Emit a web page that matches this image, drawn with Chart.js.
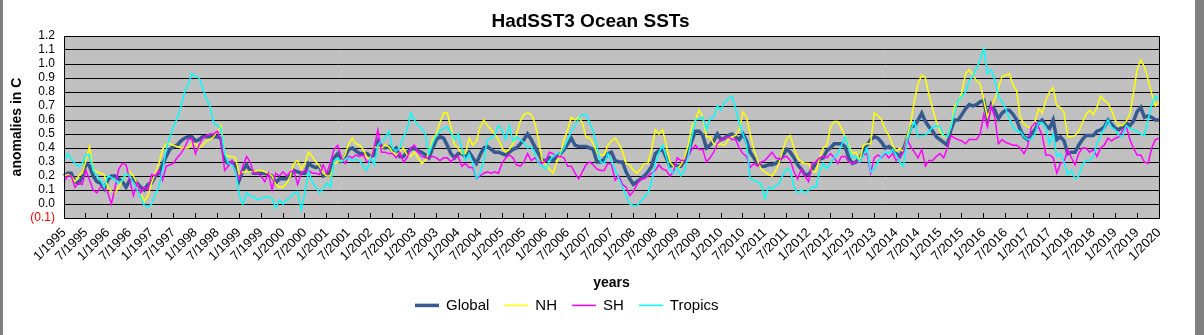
<!DOCTYPE html>
<html>
<head>
<meta charset="utf-8">
<script src="https://cdn.jsdelivr.net/npm/chart.js@4.4.1/dist/chart.umd.min.js"></script>
<style>
  html, body { margin: 0; padding: 0; background: #fff; }
  #wrap { position: relative; width: 1204px; height: 335px; }
</style>
</head>
<body>
<div id="wrap"><canvas id="sst"></canvas></div>
<script>
// HadSST3 monthly anomalies (C), 1/1995 .. 1/2020, one row per year
const globalSst = [
  0.20,0.22,0.22,0.16,0.15,0.19,0.29,0.27,0.20,0.16,0.15,0.11,
  0.17,0.20,0.20,0.18,0.16,0.12,0.17,0.18,0.15,0.12,0.10,0.14,
  0.15,0.20,0.22,0.28,0.34,0.39,0.41,0.42,0.45,0.47,0.48,0.48,
  0.45,0.46,0.48,0.48,0.48,0.48,0.48,0.47,0.31,0.29,0.30,0.27,
  0.17,0.24,0.28,0.24,0.22,0.22,0.22,0.22,0.21,0.20,0.15,0.18,
  0.18,0.18,0.20,0.24,0.23,0.22,0.22,0.29,0.27,0.26,0.27,0.20,
  0.21,0.23,0.33,0.36,0.31,0.34,0.39,0.40,0.38,0.36,0.36,0.36,
  0.34,0.35,0.45,0.41,0.40,0.41,0.38,0.40,0.34,0.34,0.37,0.39,
  0.40,0.38,0.37,0.35,0.33,0.40,0.46,0.48,0.47,0.42,0.36,0.33,
  0.36,0.36,0.34,0.37,0.33,0.29,0.35,0.40,0.41,0.39,0.37,0.37,
  0.36,0.35,0.37,0.39,0.40,0.43,0.46,0.50,0.46,0.41,0.36,0.31,
  0.31,0.33,0.31,0.34,0.36,0.39,0.43,0.47,0.42,0.41,0.41,0.41,
  0.40,0.39,0.30,0.30,0.32,0.36,0.37,0.31,0.30,0.30,0.23,0.18,
  0.14,0.16,0.18,0.20,0.23,0.27,0.36,0.38,0.39,0.33,0.27,0.28,
  0.27,0.27,0.31,0.37,0.45,0.52,0.52,0.49,0.40,0.42,0.45,0.50,
  0.46,0.47,0.49,0.50,0.48,0.46,0.50,0.45,0.37,0.33,0.29,0.27,
  0.27,0.28,0.28,0.29,0.31,0.35,0.39,0.37,0.33,0.28,0.25,0.21,
  0.21,0.25,0.29,0.32,0.33,0.38,0.40,0.43,0.43,0.43,0.41,0.33,
  0.29,0.30,0.33,0.37,0.42,0.46,0.48,0.47,0.44,0.40,0.41,0.39,
  0.36,0.34,0.39,0.47,0.55,0.56,0.60,0.65,0.59,0.55,0.52,0.48,
  0.46,0.44,0.42,0.53,0.60,0.60,0.64,0.68,0.71,0.70,0.71,0.73,
  0.74,0.61,0.71,0.67,0.61,0.65,0.67,0.67,0.64,0.60,0.53,0.48,
  0.46,0.50,0.53,0.58,0.60,0.56,0.54,0.60,0.46,0.48,0.45,0.36,
  0.37,0.37,0.42,0.46,0.49,0.49,0.49,0.52,0.53,0.55,0.60,0.57,
  0.54,0.53,0.55,0.58,0.56,0.59,0.66,0.69,0.62,0.63,0.62,0.60,
  0.60
];

const nhSst = [
  0.20,0.21,0.20,0.16,0.20,0.22,0.31,0.41,0.24,0.23,0.22,0.21,
  0.12,0.09,0.08,0.12,0.17,0.21,0.23,0.20,0.15,0.08,0.02,0.06,
  0.15,0.22,0.29,0.39,0.43,0.43,0.42,0.41,0.40,0.40,0.40,0.43,
  0.43,0.40,0.42,0.45,0.46,0.48,0.52,0.56,0.36,0.34,0.34,0.33,
  0.21,0.23,0.23,0.23,0.23,0.24,0.24,0.23,0.22,0.20,0.14,0.12,
  0.12,0.15,0.20,0.29,0.31,0.25,0.29,0.37,0.34,0.30,0.27,0.22,
  0.20,0.20,0.29,0.30,0.31,0.35,0.43,0.47,0.43,0.42,0.39,0.33,
  0.33,0.41,0.40,0.40,0.42,0.41,0.37,0.35,0.37,0.40,0.35,0.34,
  0.37,0.33,0.29,0.31,0.37,0.46,0.50,0.58,0.65,0.65,0.55,0.42,
  0.40,0.36,0.36,0.47,0.42,0.45,0.55,0.60,0.56,0.53,0.50,0.46,
  0.40,0.37,0.39,0.43,0.50,0.59,0.64,0.65,0.64,0.58,0.46,0.31,
  0.28,0.25,0.22,0.30,0.36,0.46,0.53,0.62,0.60,0.62,0.58,0.48,
  0.47,0.43,0.37,0.35,0.35,0.42,0.45,0.47,0.43,0.38,0.29,0.28,
  0.24,0.22,0.25,0.29,0.29,0.39,0.53,0.50,0.53,0.42,0.30,0.27,
  0.25,0.28,0.33,0.42,0.55,0.60,0.67,0.62,0.48,0.48,0.43,0.42,
  0.43,0.42,0.46,0.48,0.49,0.53,0.66,0.62,0.50,0.39,0.31,0.25,
  0.23,0.21,0.20,0.24,0.30,0.39,0.47,0.49,0.40,0.33,0.30,0.29,
  0.29,0.23,0.23,0.33,0.40,0.42,0.55,0.59,0.59,0.54,0.48,0.42,
  0.36,0.37,0.31,0.42,0.43,0.43,0.65,0.63,0.60,0.53,0.49,0.42,
  0.38,0.40,0.37,0.48,0.58,0.74,0.86,0.92,0.90,0.78,0.68,0.59,
  0.52,0.48,0.48,0.55,0.70,0.73,0.80,0.93,0.96,0.92,0.88,0.86,
  0.74,0.62,0.69,0.75,0.83,0.91,0.92,0.93,0.85,0.81,0.62,0.57,
  0.55,0.55,0.59,0.68,0.65,0.74,0.80,0.83,0.70,0.69,0.65,0.48,
  0.48,0.49,0.52,0.58,0.64,0.67,0.64,0.69,0.77,0.74,0.72,0.67,
  0.60,0.56,0.56,0.59,0.64,0.79,0.96,1.03,0.98,0.89,0.79,0.70,
  0.73
];

const shSst = [
  0.16,0.20,0.20,0.12,0.15,0.14,0.24,0.17,0.10,0.08,0.12,0.12,
  0.08,0.00,0.12,0.25,0.29,0.28,0.17,0.06,0.15,0.08,0.12,0.10,
  0.21,0.20,0.24,0.17,0.27,0.28,0.29,0.33,0.36,0.40,0.46,0.47,
  0.36,0.42,0.47,0.49,0.50,0.50,0.52,0.46,0.24,0.27,0.31,0.23,
  0.18,0.27,0.34,0.30,0.22,0.22,0.20,0.16,0.22,0.10,0.22,0.20,
  0.23,0.20,0.23,0.24,0.14,0.22,0.24,0.24,0.22,0.22,0.21,0.28,
  0.22,0.30,0.39,0.42,0.33,0.29,0.34,0.33,0.35,0.34,0.35,0.30,
  0.31,0.41,0.53,0.37,0.37,0.36,0.36,0.33,0.37,0.30,0.33,0.40,
  0.42,0.37,0.34,0.33,0.33,0.34,0.33,0.31,0.33,0.33,0.30,0.33,
  0.34,0.27,0.29,0.26,0.26,0.18,0.20,0.22,0.23,0.22,0.23,0.22,
  0.29,0.33,0.35,0.33,0.28,0.27,0.30,0.36,0.31,0.33,0.30,0.29,
  0.31,0.37,0.36,0.34,0.34,0.33,0.27,0.27,0.22,0.18,0.23,0.28,
  0.30,0.28,0.25,0.24,0.24,0.29,0.28,0.17,0.20,0.14,0.12,0.06,
  0.09,0.14,0.18,0.18,0.20,0.22,0.24,0.28,0.25,0.24,0.20,0.23,
  0.33,0.31,0.31,0.34,0.39,0.42,0.39,0.39,0.30,0.33,0.37,0.43,
  0.46,0.47,0.48,0.46,0.46,0.40,0.36,0.34,0.26,0.29,0.27,0.30,
  0.31,0.34,0.37,0.33,0.32,0.33,0.34,0.31,0.23,0.18,0.25,0.20,
  0.16,0.29,0.30,0.33,0.34,0.33,0.36,0.33,0.29,0.34,0.34,0.30,
  0.29,0.30,0.30,0.35,0.36,0.22,0.33,0.35,0.33,0.36,0.33,0.36,
  0.31,0.34,0.37,0.46,0.41,0.37,0.33,0.39,0.27,0.31,0.31,0.34,
  0.36,0.33,0.40,0.49,0.47,0.46,0.45,0.43,0.46,0.46,0.46,0.50,
  0.64,0.55,0.70,0.62,0.43,0.46,0.44,0.43,0.42,0.42,0.40,0.36,
  0.41,0.55,0.58,0.55,0.49,0.35,0.35,0.33,0.22,0.29,0.30,0.39,
  0.33,0.28,0.36,0.40,0.40,0.37,0.39,0.34,0.40,0.42,0.47,0.45,
  0.47,0.48,0.52,0.56,0.46,0.40,0.35,0.35,0.30,0.29,0.40,0.46,
  0.47
];

const tropicsSst = [
  0.30,0.36,0.32,0.29,0.27,0.29,0.35,0.35,0.24,0.20,0.17,0.12,
  0.20,0.19,0.17,0.15,0.17,0.22,0.20,0.15,0.10,0.05,-0.01,-0.02,
  0.00,0.07,0.12,0.24,0.39,0.48,0.55,0.61,0.69,0.80,0.85,0.93,
  0.91,0.90,0.83,0.75,0.70,0.58,0.56,0.54,0.36,0.29,0.28,0.24,
  0.06,0.00,0.08,0.06,0.05,0.03,0.04,0.05,0.05,0.04,-0.03,0.03,
  0.00,0.03,0.05,0.08,0.09,-0.04,0.08,0.23,0.16,0.12,0.08,0.11,
  0.15,0.12,0.31,0.33,0.30,0.32,0.33,0.31,0.32,0.31,0.27,0.24,
  0.33,0.28,0.42,0.45,0.47,0.52,0.40,0.38,0.40,0.48,0.53,0.65,
  0.60,0.56,0.54,0.50,0.36,0.43,0.49,0.52,0.54,0.55,0.51,0.46,
  0.50,0.40,0.31,0.36,0.29,0.18,0.22,0.31,0.46,0.47,0.49,0.56,
  0.53,0.46,0.56,0.45,0.48,0.46,0.44,0.40,0.41,0.36,0.29,0.27,
  0.25,0.31,0.34,0.36,0.36,0.40,0.46,0.52,0.56,0.61,0.64,0.64,
  0.58,0.52,0.41,0.30,0.29,0.36,0.31,0.24,0.18,0.12,0.06,0.00,
  -0.01,-0.01,0.02,0.05,0.08,0.16,0.29,0.37,0.42,0.34,0.24,0.22,
  0.26,0.20,0.24,0.34,0.48,0.60,0.61,0.62,0.53,0.61,0.62,0.70,
  0.67,0.73,0.75,0.77,0.68,0.58,0.50,0.43,0.18,0.17,0.16,0.14,
  0.04,0.12,0.11,0.13,0.15,0.21,0.25,0.24,0.12,0.08,0.10,0.08,
  0.10,0.12,0.12,0.23,0.29,0.25,0.29,0.33,0.36,0.42,0.48,0.40,
  0.33,0.34,0.30,0.35,0.40,0.23,0.25,0.30,0.34,0.37,0.36,0.39,
  0.35,0.30,0.27,0.46,0.53,0.59,0.48,0.49,0.49,0.52,0.55,0.56,
  0.55,0.49,0.48,0.55,0.66,0.74,0.77,0.80,0.88,0.91,0.97,1.03,
  1.11,0.93,0.96,0.89,0.77,0.73,0.68,0.61,0.55,0.52,0.52,0.48,
  0.46,0.46,0.50,0.58,0.58,0.55,0.43,0.50,0.34,0.36,0.30,0.21,
  0.24,0.18,0.20,0.28,0.31,0.31,0.34,0.43,0.49,0.54,0.60,0.55,
  0.53,0.49,0.48,0.56,0.54,0.53,0.52,0.50,0.49,0.60,0.71,0.77,
  0.75
];

const yTicks = [-0.1, 0, 0.1, 0.2, 0.3, 0.4, 0.5, 0.6, 0.7, 0.8, 0.9, 1.0, 1.1, 1.2];

// month labels "1/1995" ... "1/2020"
const months = [];
for (let y = 1995; y <= 2020; y++) {
  for (let m = 1; m <= 12; m++) {
    if (y === 2020 && m > 1) break;
    months.push(m + "/" + y);
  }
}

const family = "'Liberation Sans', Arial, sans-serif";

// grey plot background, black plot frame, outer frame strips
const plotFrame = {
  id: "plotFrame",
  beforeDraw(chart) {
    const { ctx, chartArea: a } = chart;
    ctx.save();
    ctx.fillStyle = "#fff";
    ctx.fillRect(0, 0, chart.width, chart.height);
    ctx.fillStyle = "#c0c0c0";
    ctx.fillRect(a.left, a.top, a.right - a.left, a.bottom - a.top);
    ctx.fillStyle = "#808080";
    ctx.fillRect(0, 0, 3, chart.height);
    ctx.fillRect(chart.width - 9, 0, 9, chart.height);
    ctx.restore();
  },
  afterDatasetsDraw(chart) {
    const { ctx, chartArea: a } = chart;
    ctx.save();
    ctx.strokeStyle = "#000";
    ctx.lineWidth = 1;
    ctx.strokeRect(a.left + 0.5, a.top + 0.5, a.right - a.left, a.bottom - a.top);
    ctx.restore();
  }
};

// legend drawn as short line samples like the spreadsheet one
const lineLegend = {
  id: "lineLegend",
  afterDraw(chart) {
    const { ctx } = chart;
    const y = chart.scales.x.bottom + 10;
    let x = 415;
    ctx.save();
    ctx.font = "15px " + family;
    ctx.textBaseline = "middle";
    ctx.fillStyle = "#000";
    chart.data.datasets.forEach(ds => {
      ctx.strokeStyle = ds.borderColor;
      ctx.lineWidth = ds.borderWidth;
      ctx.beginPath();
      ctx.moveTo(x, y);
      ctx.lineTo(x + 24, y);
      ctx.stroke();
      x += 31;
      ctx.fillText(ds.label, x, y);
      x += ctx.measureText(ds.label).width + 15;
    });
    ctx.restore();
  }
};

new Chart(document.getElementById("sst"), {
  type: "line",
  data: {
    labels: months,
    datasets: [
      { label: "Global", data: globalSst, borderColor: "#36598f", borderWidth: 3.5, order: 4 },
      { label: "NH", data: nhSst, borderColor: "#ffff00", borderWidth: 1.5, order: 3 },
      { label: "SH", data: shSst, borderColor: "#ff00ff", borderWidth: 1.5, order: 2 },
      { label: "Tropics", data: tropicsSst, borderColor: "#00ffff", borderWidth: 1.5, order: 1 },
    ],
  },
  options: {
    responsive: true,
    maintainAspectRatio: false,
    animation: false,
    layout: { padding: { top: 0, left: 22, right: 45, bottom: 39.6 } },
    elements: { point: { radius: 0 }, line: { tension: 0 } },
    plugins: {
      legend: { display: false },
      tooltip: { enabled: false },
      title: {
        display: true,
        text: "HadSST3 Ocean SSTs",
        color: "#000",
        font: { family, size: 19, weight: "bold" },
        padding: { top: 10, bottom: 3.2 },
      },
    },
    scales: {
      x: {
        ticks: {
          autoSkip: false,
          minRotation: 45,
          maxRotation: 45,
          padding: 12,
          color: "#000",
          font: { family, size: 13 },
        },
        grid: { drawOnChartArea: false, color: "#000", tickLength: -5 },
        border: { color: "#000" },
        title: {
          display: true,
          text: "years",
          color: "#000",
          font: { family, size: 14, weight: "bold" },
          padding: { top: 0, bottom: 4 },
        },
        afterBuildTicks: s => { s.ticks = s.ticks.filter((t, i) => i % 6 === 0); },
        afterFit: s => { s.height = 77.4; s.paddingLeft = 0; s.paddingRight = 0; },
      },
      y: {
        min: -0.1,
        max: 1.2,
        afterBuildTicks: s => { s.ticks = yTicks.map(v => ({ value: v })); },
        ticks: {
          autoSkip: false,
          callback: v => (v < 0 ? "(" + Math.abs(v).toFixed(1) + ")" : v.toFixed(1)),
          color: c => (c.tick && c.tick.value < 0 ? "#ff0000" : "#000"),
          padding: 9,
          font: { family, size: 12 },
        },
        grid: { color: "#000", drawTicks: false },
        border: { color: "#000" },
        title: {
          display: true,
          text: "anomalies in C",
          color: "#000",
          font: { family, size: 14, weight: "bold" },
          padding: { top: -13.4, bottom: 0 },
        },
        afterFit: s => { s.width = 42; s.paddingTop = 0; s.paddingBottom = 0; },
      },
    },
  },
  plugins: [plotFrame, lineLegend],
});
</script>
</body>
</html>
